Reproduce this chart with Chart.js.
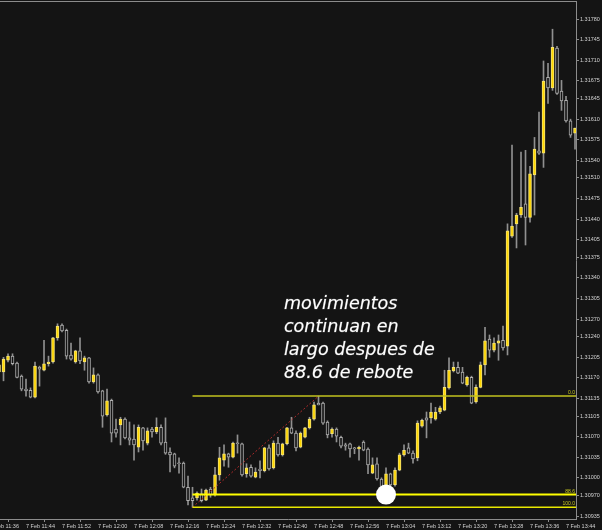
<!DOCTYPE html>
<html>
<head>
<meta charset="utf-8">
<title>7 Feb M1</title>
<script src="https://cdn.jsdelivr.net/npm/chart.js@4.4.0/dist/chart.umd.min.js"></script>
<style>
  html, body { margin: 0; padding: 0; background: #141414; }
  #wrap { width: 602px; height: 530px; }
</style>
</head>
<body>
<div id="wrap"><canvas id="priceChart" width="602" height="530"></canvas></div>
<script>
// one-minute bars, first bar at 11:38
const startTime = '11:38';

const openPrices = [
  1.31180, 1.31180, 1.31200, 1.31207, 1.31195, 1.31173, 1.31151, 1.31149, 1.31137, 1.31188,
  1.31183, 1.31194, 1.31197, 1.31238, 1.31260, 1.31251, 1.31209, 1.31197, 1.31216, 1.31197,
  1.31204, 1.31163, 1.31175, 1.31148, 1.31107, 1.31132, 1.31083, 1.31090, 1.31100, 1.31068,
  1.31066, 1.31052, 1.31085, 1.31059, 1.31083, 1.31078, 1.31086, 1.31061, 1.31044, 1.31041,
  1.31024, 1.31025, 1.30984, 1.30966, 1.30966, 1.30973, 1.30962, 1.30981, 1.30971, 1.31005,
  1.31030, 1.31041, 1.31035, 1.31059, 1.31058, 1.31007, 1.31018, 1.31001, 1.31015, 1.31012,
  1.31051, 1.31017, 1.31059, 1.31039, 1.31058, 1.31085, 1.31076, 1.31052, 1.31069, 1.31085,
  1.31100, 1.31127, 1.31127, 1.31095, 1.31075, 1.31083, 1.31069, 1.31056, 1.31058, 1.31051,
  1.31049, 1.31061, 1.31049, 1.31008, 1.31024, 1.30998, 1.30979, 1.31007, 1.30988, 1.31013,
  1.31039, 1.31051, 1.31042, 1.31034, 1.31088, 1.31102, 1.31102, 1.31100, 1.31112, 1.31115,
  1.31153, 1.31182, 1.31188, 1.31180, 1.31158, 1.31171, 1.31129, 1.31154, 1.31192, 1.31236,
  1.31217, 1.31229, 1.31234, 1.31224, 1.31411, 1.31432, 1.31447, 1.31466, 1.31443, 1.31515,
  1.31556, 1.31552, 1.31681, 1.31663, 1.31731, 1.31658, 1.31642, 1.31607, 1.31586
];
const highPrices = [
  1.31195, 1.31205, 1.31211, 1.31211, 1.31197, 1.31175, 1.31168, 1.31153, 1.31197, 1.31190,
  1.31234, 1.31207, 1.31239, 1.31262, 1.31262, 1.31253, 1.31229, 1.31217, 1.31238, 1.31207,
  1.31205, 1.31187, 1.31177, 1.31149, 1.31151, 1.31134, 1.31100, 1.31103, 1.31102, 1.31095,
  1.31090, 1.31090, 1.31086, 1.31085, 1.31086, 1.31102, 1.31090, 1.31102, 1.31051, 1.31042,
  1.31034, 1.31027, 1.31003, 1.30984, 1.30976, 1.30981, 1.30981, 1.30984, 1.31018, 1.31052,
  1.31056, 1.31042, 1.31061, 1.31073, 1.31059, 1.31024, 1.31022, 1.31017, 1.31029, 1.31052,
  1.31056, 1.31063, 1.31069, 1.31059, 1.31086, 1.31103, 1.31080, 1.31078, 1.31086, 1.31103,
  1.31129, 1.31139, 1.31129, 1.31097, 1.31085, 1.31085, 1.31071, 1.31059, 1.31059, 1.31052,
  1.31054, 1.31063, 1.31051, 1.31034, 1.31034, 1.31000, 1.31017, 1.31008, 1.31017, 1.31042,
  1.31056, 1.31059, 1.31046, 1.31097, 1.31100, 1.31112, 1.31127, 1.31120, 1.31122, 1.31183,
  1.31204, 1.31197, 1.31197, 1.31188, 1.31173, 1.31173, 1.31158, 1.31197, 1.31256, 1.31243,
  1.31238, 1.31243, 1.31258, 1.31432, 1.31566, 1.31450, 1.31554, 1.31557, 1.31530, 1.31579,
  1.31622, 1.31709, 1.31705, 1.31763, 1.31734, 1.31676, 1.31649, 1.31610, 1.31595
];
const lowPrices = [
  1.31178, 1.31165, 1.31197, 1.31192, 1.31170, 1.31148, 1.31139, 1.31136, 1.31136, 1.31156,
  1.31182, 1.31190, 1.31195, 1.31234, 1.31248, 1.31202, 1.31200, 1.31195, 1.31194, 1.31183,
  1.31161, 1.31161, 1.31144, 1.31086, 1.31105, 1.31061, 1.31069, 1.31056, 1.31066, 1.31056,
  1.31030, 1.31044, 1.31047, 1.31056, 1.31069, 1.31075, 1.31056, 1.31040, 1.31010, 1.31017,
  1.31008, 1.30983, 1.30954, 1.30950, 1.30962, 1.30959, 1.30961, 1.30967, 1.30969, 1.30996,
  1.31020, 1.31018, 1.31034, 1.31042, 1.31003, 1.31001, 1.31001, 1.31000, 1.31000, 1.31010,
  1.31013, 1.31015, 1.31037, 1.31037, 1.31056, 1.31075, 1.31046, 1.31051, 1.31068, 1.31083,
  1.31098, 1.31124, 1.31091, 1.31068, 1.31069, 1.31061, 1.31051, 1.31047, 1.31035, 1.31041,
  1.31030, 1.31046, 1.31007, 1.31007, 1.30996, 1.30974, 1.30974, 1.30986, 1.30986, 1.31012,
  1.31037, 1.31041, 1.31025, 1.31029, 1.31086, 1.31068, 1.31093, 1.31098, 1.31109, 1.31114,
  1.31151, 1.31180, 1.31177, 1.31160, 1.31156, 1.31126, 1.31127, 1.31153, 1.31175, 1.31205,
  1.31214, 1.31200, 1.31217, 1.31209, 1.31409, 1.31391, 1.31443, 1.31396, 1.31435, 1.31447,
  1.31550, 1.31528, 1.31637, 1.31659, 1.31652, 1.31625, 1.31605, 1.31579, 1.31559
];
const closePrices = [
  1.31192, 1.31202, 1.31207, 1.31194, 1.31171, 1.31151, 1.31148, 1.31137, 1.31190, 1.31185,
  1.31194, 1.31197, 1.31238, 1.31258, 1.31250, 1.31207, 1.31202, 1.31216, 1.31199, 1.31204,
  1.31163, 1.31175, 1.31146, 1.31105, 1.31131, 1.31076, 1.31076, 1.31100, 1.31068, 1.31064,
  1.31056, 1.31086, 1.31063, 1.31080, 1.31078, 1.31086, 1.31059, 1.31042, 1.31039, 1.31020,
  1.31024, 1.30984, 1.30961, 1.30961, 1.30974, 1.30961, 1.30979, 1.30971, 1.31005, 1.31034,
  1.31041, 1.31035, 1.31059, 1.31058, 1.31005, 1.31017, 1.31003, 1.31010, 1.31012, 1.31051,
  1.31015, 1.31059, 1.31039, 1.31058, 1.31085, 1.31076, 1.31051, 1.31076, 1.31085, 1.31100,
  1.31124, 1.31124, 1.31093, 1.31073, 1.31083, 1.31071, 1.31054, 1.31054, 1.31049, 1.31049,
  1.31052, 1.31047, 1.31022, 1.31022, 1.30998, 1.30979, 1.31007, 1.30988, 1.31013, 1.31039,
  1.31047, 1.31042, 1.31032, 1.31093, 1.31098, 1.31098, 1.31112, 1.31112, 1.31119, 1.31154,
  1.31183, 1.31188, 1.31178, 1.31161, 1.31171, 1.31127, 1.31154, 1.31192, 1.31233, 1.31217,
  1.31229, 1.31233, 1.31221, 1.31420, 1.31428, 1.31447, 1.31460, 1.31443, 1.31517, 1.31559,
  1.31552, 1.31675, 1.31663, 1.31732, 1.31654, 1.31641, 1.31607, 1.31583, 1.31595
];

const xTickLabels = [
  '7 Feb 11:36', '7 Feb 11:44', '7 Feb 11:52', '7 Feb 12:00', '7 Feb 12:08', '7 Feb 12:16',
  '7 Feb 12:24', '7 Feb 12:32', '7 Feb 12:40', '7 Feb 12:48', '7 Feb 12:56', '7 Feb 13:04',
  '7 Feb 13:12', '7 Feb 13:20', '7 Feb 13:28', '7 Feb 13:36', '7 Feb 13:44'
];
const yTickLabels = [
  '1.31780', '1.31745', '1.31710', '1.31675', '1.31645', '1.31610', '1.31575', '1.31540',
  '1.31510', '1.31475', '1.31440', '1.31405', '1.31375', '1.31340', '1.31305', '1.31270',
  '1.31240', '1.31205', '1.31170', '1.31135', '1.31105', '1.31070', '1.31035', '1.31000',
  '1.30970', '1.30935'
];

// fibonacci drawn from the low of bar 43 to the high of bar 71
const fibStartIndex = 43;
const fibEndIndex = 71;
const fibLevels = ['0.0', '88.6', '100.0'];
const markIndex = 86;   // white dot on the 88.6 retest
const noteLines = ['movimientos', 'continuan en', 'largo despues de', '88.6 de rebote'];

const BG = '#141414';
const AXIS = '#8c8c8c';
const TXT = '#d2d2d2';
const BULL = '#ffd700';
const WICK = '#909090';

function minutes(t) {
  const p = t.split(':');
  return parseInt(p[0]) * 60 + parseInt(p[1]);
}
const xTickIndex = xTickLabels.map(l => minutes(l.split(' ')[2]) - minutes(startTime));

const isBull = closePrices.map((c, i) => c > openPrices[i]);

const overlay = {
  id: 'overlay',
  afterDatasetsDraw(chart) {
    const { ctx, chartArea: a, scales: { x, y } } = chart;
    ctx.save();
    ctx.strokeStyle = AXIS;
    ctx.lineWidth = 1;
    ctx.beginPath();
    ctx.moveTo(a.left, a.top + 0.5);
    ctx.lineTo(a.right, a.top + 0.5);
    ctx.stroke();

    ctx.save();
    ctx.beginPath();
    ctx.rect(a.left, a.top, a.right - a.left, a.bottom - a.top);
    ctx.clip();

    const hi = highPrices[fibEndIndex];
    const lo = lowPrices[fibStartIndex];
    const x0 = x.getPixelForValue(fibStartIndex);

    // dotted trend line of the fibo tool
    ctx.setLineDash([2, 2]);
    ctx.strokeStyle = '#a82a2a';
    ctx.lineWidth = 1;
    ctx.beginPath();
    ctx.moveTo(x0, y.getPixelForValue(lo));
    ctx.lineTo(x.getPixelForValue(fibEndIndex), y.getPixelForValue(hi));
    ctx.stroke();
    ctx.setLineDash([]);

    const fibColors = ['#c2c21e', '#ffff00', '#e8e800'];
    const fibWidths = [1.5, 2, 1.5];
    ctx.font = '5px "Liberation Sans"';
    ctx.textAlign = 'right';
    ctx.textBaseline = 'alphabetic';
    fibLevels.forEach((lvl, k) => {
      const p = hi - parseFloat(lvl) / 100 * (hi - lo);
      const py = y.getPixelForValue(p);
      ctx.strokeStyle = fibColors[k];
      ctx.lineWidth = fibWidths[k];
      ctx.beginPath();
      ctx.moveTo(x0, py);
      ctx.lineTo(a.right, py);
      ctx.stroke();
      ctx.fillStyle = '#c8c820';
      ctx.fillText(lvl, a.right - 1, py - 2);
    });

    // white dot
    const lvl886 = hi - 0.886 * (hi - lo);
    ctx.fillStyle = '#ffffff';
    ctx.beginPath();
    ctx.arc(x.getPixelForValue(markIndex), y.getPixelForValue(lvl886), 10, 0, Math.PI * 2);
    ctx.fill();
    ctx.restore();

    // handwritten note
    ctx.font = 'italic 17.5px "DejaVu Sans"';
    ctx.textAlign = 'left';
    ctx.fillStyle = '#ffffff';
    ctx.strokeStyle = 'rgba(255,255,255,0.35)';
    ctx.lineWidth = 0.6;
    noteLines.forEach((t, k) => {
      ctx.fillText(t, 284, 309 + k * 23);
      ctx.strokeText(t, 284, 309 + k * 23);
    });
    ctx.restore();
  }
};

const ctx = document.getElementById('priceChart').getContext('2d');
const priceChart = new Chart(ctx, {
  type: 'bar',
  data: {
    datasets: [{
      label: 'wick',
      data: highPrices.map((h, i) => ({ x: i, y: [lowPrices[i], h] })),
      backgroundColor: WICK,
      borderWidth: 0,
      barThickness: 1,
      grouped: false,
      order: 2
    }, {
      label: 'body',
      data: openPrices.map((o, i) => ({ x: i, y: [o, closePrices[i]] })),
      backgroundColor: isBull.map(b => b ? BULL : BG),
      borderColor: isBull.map(b => b ? '#f2e27a' : '#b0b0b0'),
      borderWidth: 1,
      borderSkipped: false,
      minBarLength: 1,
      barThickness: 3,
      grouped: false,
      order: 1
    }]
  },
  options: {
    responsive: false,
    animation: false,
    layout: { padding: { top: 1, left: 0, right: 0, bottom: 0 } },
    plugins: { legend: { display: false }, tooltip: { enabled: false } },
    scales: {
      x: {
        type: 'linear',
        min: 0.22,
        max: 128.22,
        offset: false,
        grid: { drawOnChartArea: false, drawTicks: true, tickLength: 3, color: AXIS },
        border: { display: true, color: AXIS },
        ticks: {
          autoSkip: false,
          maxRotation: 0,
          align: 'start',
          padding: 1,
          color: TXT,
          font: { family: 'Liberation Sans', size: 5.5 },
          callback: (v, i) => xTickLabels[i]
        },
        afterBuildTicks: s => { s.ticks = xTickIndex.map(v => ({ value: v })); },
        afterFit: s => {
          s.height = 11;
          s.paddingLeft = 0;
          s.paddingRight = 0;
        }
      },
      y: {
        position: 'right',
        min: 1.30930,
        max: 1.31811,
        grid: { drawOnChartArea: false, drawTicks: true, tickLength: 3, color: AXIS },
        border: { display: true, color: AXIS },
        ticks: {
          autoSkip: false,
          padding: 1,
          color: TXT,
          font: { family: 'Liberation Sans', size: 5.5 },
          callback: (v, i) => yTickLabels[i]
        },
        afterBuildTicks: s => { s.ticks = yTickLabels.map(t => ({ value: parseFloat(t) })); },
        afterFit: s => {
          s.width = 26;
          s.paddingTop = 0;
          s.paddingBottom = 0;
        }
      }
    }
  },
  plugins: [overlay]
});
</script>
</body>
</html>
